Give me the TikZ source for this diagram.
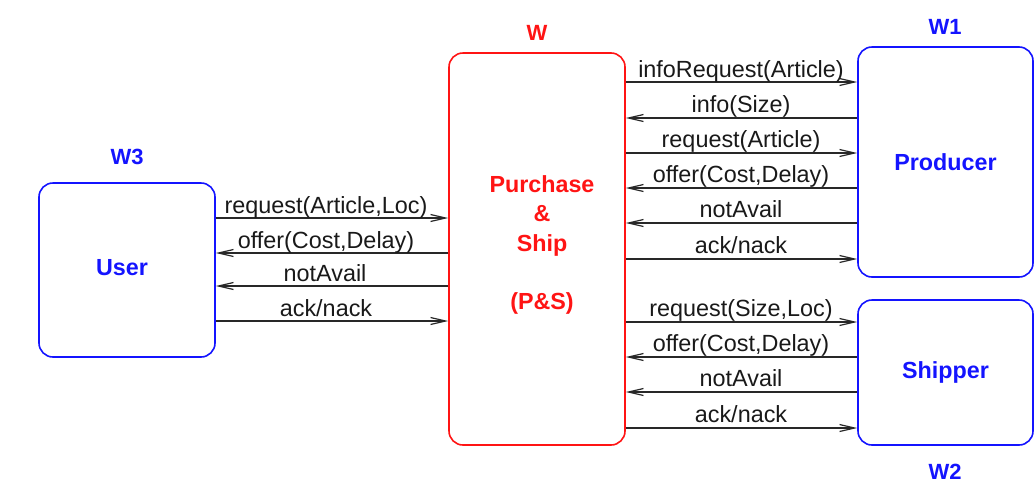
\documentclass[tikz,border=0pt]{standalone}
\usepackage{fontspec}
\setmainfont{Liberation Sans}
\usetikzlibrary{arrows.meta}
\definecolor{myblue}{RGB}{20,20,255}
\definecolor{myred}{RGB}{255,20,20}
\definecolor{arrowc}{RGB}{40,40,40}
\begin{document}
\begin{tikzpicture}[x=1pt,y=-1pt,
  box/.style={draw,line width=1.6pt,rounded corners=14pt,inner sep=0pt,font=\fontsize{23.3}{29}\selectfont\bfseries,align=center},
  bluebox/.style={box,draw=myblue,text=myblue},
  redbox/.style={box,draw=myred,text=myred},
  wlabel/.style={font=\fontsize{22}{25}\selectfont\bfseries},
  msg/.style={draw=arrowc,line width=1.5pt,-{Straight Barb[length=15pt,width=7pt,line width=1.2pt]}},
  mlabel/.style={anchor=base,inner sep=0pt,font=\fontsize{23.4}{25}\selectfont,text=black!90}]
\useasboundingbox (0,0) rectangle (1035,496);
% boxes
\node[bluebox,minimum width=176pt,minimum height=174pt] (user) at (127,270) {};
\node[redbox,minimum width=176pt,minimum height=392pt] (ps) at (537,249) {};
\node[bluebox,minimum width=175pt,minimum height=230pt] (prod) at (945.5,162) {Producer};
\node[bluebox,minimum width=175pt,minimum height=145pt] (ship) at (945.5,372.5) {Shipper};
\node[font=\fontsize{23.3}{29}\selectfont\bfseries,text=myblue] (usertext) at (122,268) {User};
\node[font=\fontsize{23.3}{29.3}\selectfont\bfseries,text=myred,align=center] (pstext) at (542,245) {Purchase\\\&\\Ship\\[29.3pt](P\&S)};
% world labels
\node[wlabel,text=myred] (w) at (537,33) {W};
\node[wlabel,text=myblue] (w1) at (945,27) {W1};
\node[wlabel,text=myblue] (w3) at (127,157) {W3};
\node[wlabel,text=myblue] (w2) at (945,472) {W2};
% user <-> P&S
\draw[msg] (user.east |- 0,218) -- (ps.west |- 0,218);
\draw[msg] (ps.west |- 0,253) -- (user.east |- 0,253);
\draw[msg] (ps.west |- 0,286) -- (user.east |- 0,286);
\draw[msg] (user.east |- 0,321) -- (ps.west |- 0,321);
\node[mlabel] (l1) at (326,213) {request(Article,Loc)};
\node[mlabel] (l2) at (326,248) {offer(Cost,Delay)};
\node[mlabel] (l3) at (325,281) {notAvail};
\node[mlabel] (l4) at (326,316) {ack/nack};
% P&S <-> producer
\draw[msg] (ps.east |- 0,82) -- (prod.west |- 0,82);
\draw[msg] (prod.west |- 0,118) -- (ps.east |- 0,118);
\draw[msg] (ps.east |- 0,153) -- (prod.west |- 0,153);
\draw[msg] (prod.west |- 0,188) -- (ps.east |- 0,188);
\draw[msg] (prod.west |- 0,223) -- (ps.east |- 0,223);
\draw[msg] (ps.east |- 0,259) -- (prod.west |- 0,259);
\node[mlabel] (p1) at (741,77) {infoRequest(Article)};
\node[mlabel] (p2) at (741,112.5) {info(Size)};
\node[mlabel] (p3) at (741,147.5) {request(Article)};
\node[mlabel] (p4) at (741,182.5) {offer(Cost,Delay)};
\node[mlabel] (p5) at (741,217.5) {notAvail};
\node[mlabel] (p6) at (741,253.5) {ack/nack};
% P&S <-> shipper
\draw[msg] (ps.east |- 0,322) -- (ship.west |- 0,322);
\draw[msg] (ship.west |- 0,357) -- (ps.east |- 0,357);
\draw[msg] (ship.west |- 0,392) -- (ps.east |- 0,392);
\draw[msg] (ps.east |- 0,428) -- (ship.west |- 0,428);
\node[mlabel] (s1) at (741,316.5) {request(Size,Loc)};
\node[mlabel] (s2) at (741,351.5) {offer(Cost,Delay)};
\node[mlabel] (s3) at (741,386.5) {notAvail};
\node[mlabel] (s4) at (741,422.5) {ack/nack};
\end{tikzpicture}
\end{document}
